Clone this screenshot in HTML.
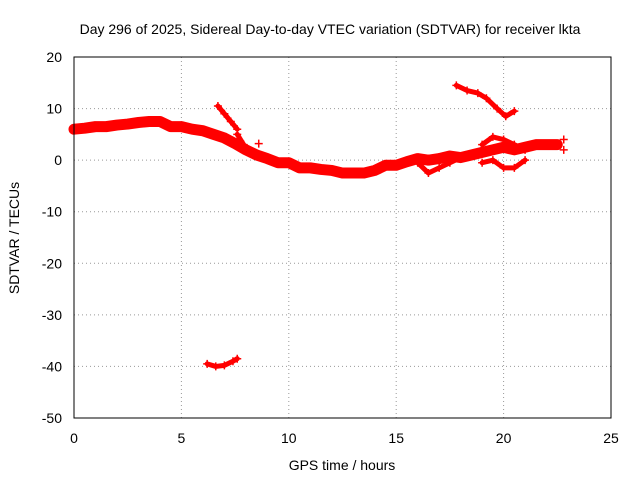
<!DOCTYPE html>
<html><head><meta charset="utf-8"><style>
body{margin:0;background:#fff;}
svg text{font-family:"Liberation Sans",sans-serif;font-size:14px;fill:#000;}
</style></head><body>
<svg id="chart" width="640" height="480">
<rect width="640" height="480" fill="#fff"/>
<text x="330" y="34" text-anchor="middle">Day 296 of 2025, Sidereal Day-to-day VTEC variation (SDTVAR) for receiver lkta</text>
<text x="342" y="470" text-anchor="middle">GPS time / hours</text>
<text transform="translate(19,238) rotate(-90)" text-anchor="middle">SDTVAR / TECUs</text>
<g id="grid"></g><g id="marks"></g>
<rect x="74" y="57" width="537" height="361" fill="none" stroke="#000"/>
</svg>
<script>
const xTicks=[0,5,10,15,20,25];
const yTicks=[20,10,0,-10,-20,-30,-40,-50];
const mainT=[0,0.5,1,1.5,2,2.5,3,3.5,4,4.5,5,5.5,6,6.5,7,7.5,8,8.5,9,9.5,10,10.5,11,11.5,12,12.5,13,13.5,14,14.5,15,15.5,16,16.5,17,17.5,18,18.5,19,19.5,20,20.5,21,21.5,22,22.5];
const mainV=[6,6.2,6.5,6.5,6.8,7,7.3,7.5,7.5,6.5,6.5,6,5.7,5,4.3,3.2,2,1,0.3,-0.5,-0.5,-1.5,-1.5,-1.8,-2,-2.5,-2.5,-2.5,-2,-1,-1,-0.3,0.3,0,0.3,0.8,0.5,1,1.5,2,2.5,2,2.5,3,3,3];
const segAT=[6.7,7,7.3,7.6];const segAV=[10.5,9,7.5,6];
const segBT=[7.6,7.9,8.2];const segBV=[5,3,1.5];
const lowT=[6.2,6.6,7,7.4,7.6];const lowV=[-39.5,-40,-39.8,-39,-38.5];
const topT=[17.8,18.3,18.8,19.2,19.7,20.1,20.5];const topV=[14.5,13.5,13,12,10,8.5,9.5];
const loopAT=[16,16.5,17,17.5,18];const loopAV=[-0.5,-2.5,-1.5,-0.5,0.5];
const loopBT=[19,19.5,20,20.5,21];const loopBV=[3,4.5,4,3,2];
const loopCT=[19,19.5,20,20.5,21];const loopCV=[-0.5,0,-1.5,-1.5,0];
const extraT=[22.8,22.8,8.6];const extraV=[4,2,3.2];
const X=t=>74+t*537/25;
const Y=v=>57+(20-v)*361/70;
const NS="http://www.w3.org/2000/svg";
const grid=document.getElementById('grid'),marks=document.getElementById('marks');
function mk(tag,attrs,parent){const e=document.createElementNS(NS,tag);for(const k in attrs)e.setAttribute(k,attrs[k]);parent.appendChild(e);return e;}
xTicks.forEach(t=>{
 if(t>0&&t<25){const l=mk('line',{x1:X(t),x2:X(t),y1:57,y2:418,stroke:'#999','stroke-dasharray':'1,3'},grid);
 
 }
 const tx=mk('text',{x:X(t),y:443,'text-anchor':'middle'},grid);tx.textContent=t;
 
 
});
yTicks.forEach(v=>{
 if(v<20&&v>-50){const l=mk('line',{x1:74,x2:611,y1:Y(v),y2:Y(v),stroke:'#999','stroke-dasharray':'1,3'},grid);
 
 }
 const tx=mk('text',{x:62,y:Y(v)+5,'text-anchor':'end'},grid);tx.textContent=v;
 
 
});
function series(T,V,name,w){
 const pts=T.map((t,i)=>X(t)+','+Y(V[i])).join(' ');
 const p=mk('polyline',{points:pts,fill:'none',stroke:'#f00','stroke-width':w,'stroke-linejoin':'round','stroke-linecap':'round'},marks);
 
 
 T.forEach((t,i)=>{const x=X(t),y=Y(V[i]);
  const c=mk('path',{d:`M${x-4},${y}H${x+4}M${x},${y-4}V${y+4}`,stroke:'#f00','stroke-width':1.5},marks);
  
  });
}
series(mainT,mainV,'main-series',11);
series(segAT,segAV,'descending-segment',5);
series(segBT,segBV,'short-segment',5);
series(lowT,lowV,'outlier-segment',5);
series(topT,topV,'high-segment',5);
series(loopAT,loopAV,'loop-a',5);
series(loopBT,loopBV,'loop-b',5);
series(loopCT,loopCV,'loop-c',5);
extraT.forEach((t,i)=>{const x=X(t),y=Y(extraV[i]);
 const c=mk('path',{d:`M${x-4},${y}H${x+4}M${x},${y-4}V${y+4}`,stroke:'#f00','stroke-width':1.5},marks);
 
 });
</script>
</body></html>
